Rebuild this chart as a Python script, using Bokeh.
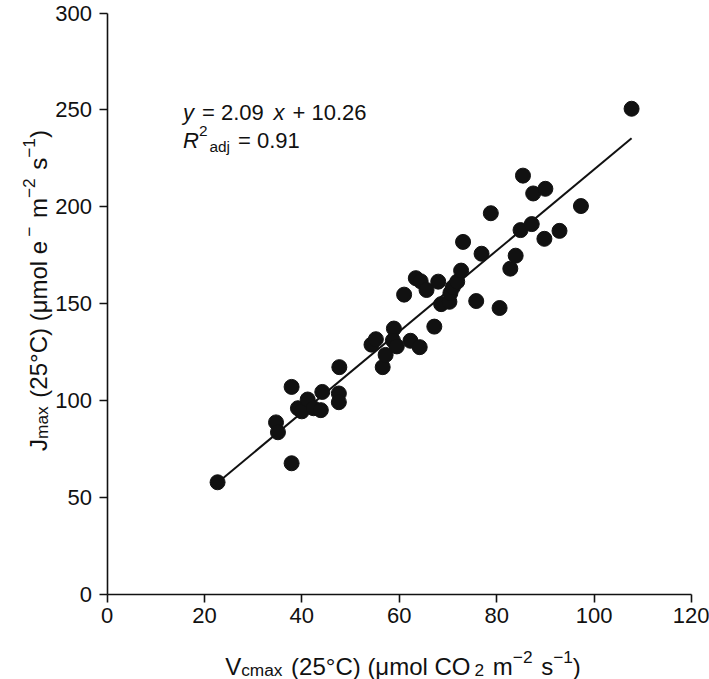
import math
from bokeh.plotting import figure
from bokeh.models import Range1d, Label, LinearAxis, FixedTicker
from bokeh.embed import file_html
from bokeh.resources import INLINE

# ---------------- data ----------------
vcmax = [22.7, 107.7, 37.9, 37.9, 34.7, 35.1, 39.2, 40.0, 41.2, 42.4, 43.9, 44.2,
         47.7, 47.6, 47.6, 54.3, 55.2, 56.6, 57.2, 58.9, 58.7, 59.5, 61.0, 62.3,
         64.2, 63.4, 64.4, 65.6, 67.2, 68.0, 68.6, 70.3, 70.5, 71.0, 71.9, 72.7,
         73.1, 75.8, 76.9, 78.8, 80.6, 82.8, 83.9, 84.9, 85.4, 87.2, 87.5, 90.0,
         89.8, 92.9, 97.3]
jmax = [57.9, 250.6, 107.1, 67.7, 88.8, 83.7, 96.1, 94.5, 100.6, 96.1, 95.1, 104.5,
        117.3, 103.7, 99.2, 128.9, 131.7, 117.3, 123.6, 137.2, 131.1, 128.0, 154.7, 130.9,
        127.6, 163.2, 161.6, 157.1, 138.2, 161.4, 149.8, 151.0, 155.5, 158.5, 161.4, 167.1,
        181.9, 151.4, 175.8, 196.7, 147.8, 168.1, 174.8, 188.0, 216.1, 191.1, 206.9, 209.3,
        183.5, 187.6, 200.4]
slope = 2.09
intercept = 10.26
fit_x = [min(vcmax), max(vcmax)]
fit_y = [slope * v + intercept for v in fit_x]
x_ticks = [0, 20, 40, 60, 80, 100, 120]
y_ticks = [0, 50, 100, 150, 200, 250, 300]

FONT = "Liberation Sans"
INK = "#111111"

# canvas and axis placement (pixels from the canvas top-left)
CW, CH = 709, 679
AX_X0, AX_X1 = 106.5, 691.0     # pixel of x = 0 and x = 120
AX_Y0, AX_Y1 = 594.0, 12.5      # pixel of y = 0 and y = 300
XMAX, YMAX = 120.0, 300.0
kx = (AX_X1 - AX_X0) / XMAX
ky = (AX_Y0 - AX_Y1) / YMAX


def dx(px):
    return (px - AX_X0) / kx


def dy(py):
    return (AX_Y0 - py) / ky


p = figure(frame_width=CW, frame_height=CH,
           min_border_left=0, min_border_top=0, min_border_right=0, min_border_bottom=0,
           x_range=Range1d(dx(0), dx(CW)), y_range=Range1d(dy(CH), dy(0)),
           x_axis_location=None, y_axis_location=None,
           output_backend="svg", toolbar_location=None)
p.outline_line_color = None
p.grid.visible = False
p.background_fill_color = "white"
p.border_fill_color = "white"

xa = LinearAxis(fixed_location=0, bounds=(0, XMAX), ticker=FixedTicker(ticks=x_ticks))
ya = LinearAxis(fixed_location=0, bounds=(0, YMAX), ticker=FixedTicker(ticks=y_ticks))
for ax in (xa, ya):
    ax.axis_line_width = 1.6
    ax.axis_line_color = INK
    ax.major_tick_line_width = 1.6
    ax.major_tick_line_color = INK
    ax.major_tick_out = 8
    ax.major_tick_in = 0
    ax.minor_tick_out = 0
    ax.minor_tick_in = 0
    ax.major_label_text_font = FONT
    ax.major_label_text_font_size = "22px"
    ax.major_label_text_color = INK
xa.major_label_standoff = 5
ya.major_label_standoff = 7
p.add_layout(xa, "below")
p.add_layout(ya, "left")

p.line(fit_x, fit_y, line_color=INK, line_width=2)
p.scatter(vcmax, jmax, size=15, fill_color=INK, line_color=INK)

# ------------- rich text helpers -------------
WID = {' ': 278, '(': 333, ')': 333, '°': 400, 'C': 722, 'O': 778, 'V': 667, 'J': 500,
       'R': 722, 'a': 556, 'c': 500, 'd': 556, 'e': 556, 'j': 222, 'l': 222, 'm': 833,
       'o': 556, 's': 500, 'x': 500, 'y': 500, '=': 584, '+': 584, '.': 278, '−': 584,
       'μ': 576}


def tw(s, size, space=1.0):
    return sum(WID.get(c, 556) * (space if c == ' ' else 1.0) for c in s) / 1000.0 * size


def add_text(px, py, text, size, angle=0.0, italic=False):
    p.add_layout(Label(x=dx(px), y=dy(py), text=text, text_font=FONT,
                       text_font_size=f"{size:.1f}px", text_color=INK,
                       text_font_style="italic" if italic else "normal",
                       text_align="left", text_baseline="alphabetic", angle=angle))


def rich(segs, start, base, size, vertical=False, space=1.0):
    # segs: (text, scale, shift_em, italic, extra_gap_px)
    pos = start
    for text, sc, sh, it, gap in segs:
        s = size * sc
        off = sh * size
        lead = len(text) - len(text.lstrip(' '))
        core = text.strip(' ')
        trail = len(text) - len(text.rstrip(' ')) if core else 0
        adv0 = tw(' ' * lead, s, space)
        adv1 = tw(core, s, space)
        adv2 = tw(' ' * trail, s, space)
        if vertical:
            pos -= adv0
            add_text(base - off, pos, core, s, angle=math.pi / 2, italic=it)
            pos -= adv1 + adv2 + gap
        else:
            pos += adv0
            add_text(pos, base - off, core, s, italic=it)
            pos += adv1 + adv2 + gap
    return pos


def total(segs, size, space=1.0):
    return sum(tw(t, size * sc, space) + g for t, sc, sh, it, g in segs)


SUB, SUP = -0.16, 0.4
LS = 24
xl = [("V", 1, 0, False, 0), ("cmax", 0.72, SUB, False, 0), (" (25°C) (μmol CO", 1, 0, False, 0),
      ("2", 0.72, SUB, False, 0), (" m", 1, 0, False, 0), ("−2", 0.72, SUP, False, 0),
      (" s", 1, 0, False, 0), ("−1", 0.72, SUP, False, 0), (")", 1, 0, False, 0)]
rich(xl, 402.5 - total(xl, LS, 1.3) / 2, 666, LS, space=1.3)

yl = [("J", 1, 0, False, 0), ("max", 0.72, SUB, False, 0), (" (25°C) (μmol e", 1, 0, False, 0),
      ("−", 0.72, SUP, False, 0), (" m", 1, 0, False, 0), ("−2", 0.72, SUP, False, 0),
      (" s", 1, 0, False, 0), ("−1", 0.72, SUP, False, 0), (")", 1, 0, False, 0)]
rich(yl, 290 + total(yl, LS, 1.3) / 2, 38, LS, vertical=True, space=1.3)

ES = 22
eq1 = [("y", 1, 0, True, 0), (" = 2.09 ", 1, 0, False, 0), ("x", 1, 0, True, 0),
       (" + 10.26", 1, 0, False, 0)]
rich(eq1, 182.5, 112, ES, space=1.3)
eq2 = [("R", 1, 0, True, 0), ("2", 0.7, 0.42, False, 2), ("adj", 0.7, -0.28, False, 0),
       (" = 0.91", 1, 0, False, 0)]
rich(eq2, 182.5, 140, ES, space=1.3)

open("out.html", "w").write(file_html(p, INLINE))
